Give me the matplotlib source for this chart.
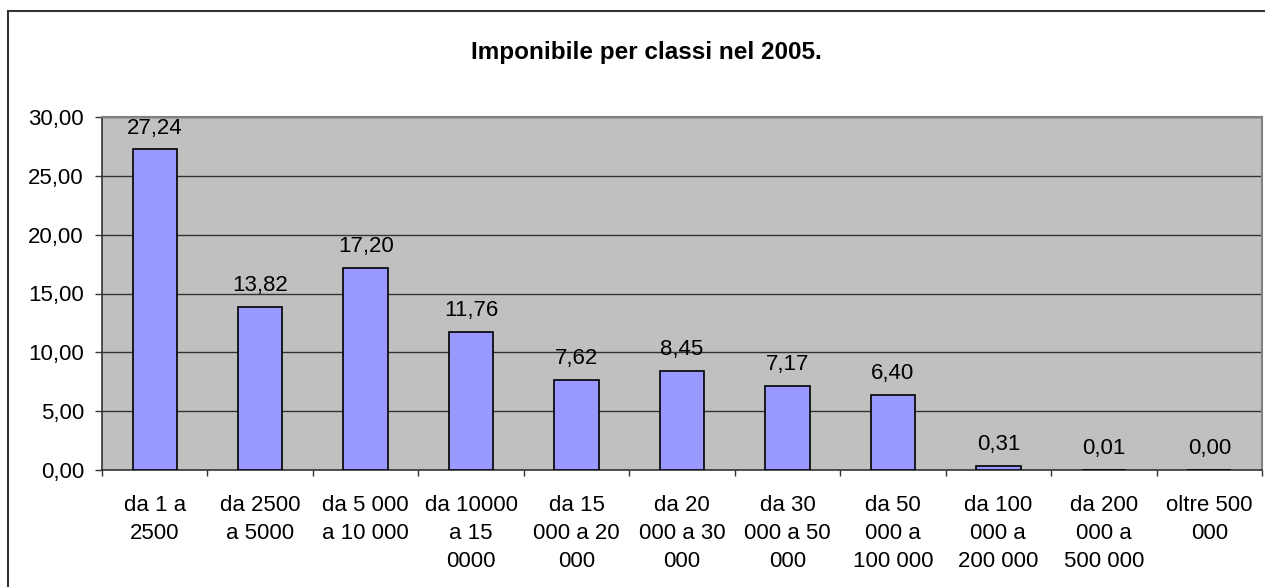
import matplotlib
matplotlib.use("Agg")
import matplotlib.pyplot as plt
from matplotlib.patches import Rectangle
from matplotlib.ticker import FixedLocator, NullFormatter

plt.rcParams['font.family'] = ['Liberation Sans', 'DejaVu Sans']

categories = ["da 1 a\n2500", "da 2500\na 5000", "da 5 000\na 10 000",
              "da 10000\na 15\n0000", "da 15\n000 a 20\n000", "da 20\n000 a 30\n000",
              "da 30\n000 a 50\n000", "da 50\n000 a\n100 000", "da 100\n000 a\n200 000",
              "da 200\n000 a\n500 000", "oltre 500\n000"]
values = [27.24, 13.82, 17.20, 11.76, 7.62, 8.45, 7.17, 6.40, 0.31, 0.01, 0.00]
yticks = [0, 5, 10, 15, 20, 25, 30]
title = "Imponibile per classi nel 2005."

FS = 16
W, H = 1265, 587
fig = plt.figure(figsize=(W/100, H/100), dpi=100)
fig.patch.set_facecolor('white')

# outer chart border (extends beyond right/bottom edges)
fig.add_artist(Rectangle((8/W, -0.1), 1.2, 1 - 11/H + 0.1, transform=fig.transFigure,
                         fill=False, edgecolor='#333333', linewidth=1.5))

left, right, top, bottom = 102, 1262, 117, 470
ax = fig.add_axes([left/W, 1 - bottom/H, (right-left)/W, (bottom-top)/H])
ax.set_facecolor('#C0C0C0')

n = len(categories)
x = list(range(n))
ax.bar(x, values, width=0.42, color='#9999FF', edgecolor='black', linewidth=1.2, zorder=3)
ax.set_xlim(-0.5, n - 0.5)
ax.set_ylim(0, 30)

ax.set_yticks(yticks)
ax.set_yticklabels([f"{v:.2f}".replace('.', ',') for v in yticks], fontsize=FS)
for v in yticks[1:]:
    ax.axhline(v, color='#333333', linewidth=1.0, zorder=1)

ax.xaxis.set_major_locator(FixedLocator([i - 0.5 for i in range(n + 1)]))
ax.xaxis.set_major_formatter(NullFormatter())
ax.xaxis.set_minor_locator(FixedLocator(x))
ax.set_xticklabels(categories, minor=True, fontsize=FS, linespacing=1.45, va='top')
ax.tick_params(axis='x', which='minor', length=0, pad=18)
ax.tick_params(axis='x', which='major', length=4.5, width=1, direction='out', color='#333333')
ax.tick_params(axis='y', length=5, width=1, direction='out', color='#333333', pad=8)

for s in ['top', 'right']:
    ax.spines[s].set_color('#808080')
    ax.spines[s].set_linewidth(1.5)
for s in ['left', 'bottom']:
    ax.spines[s].set_color('#333333')
    ax.spines[s].set_linewidth(1.2)

for xi, v in zip(x, values):
    ax.annotate(f"{v:.2f}".replace('.', ','), (xi, v), xytext=(0, 11.5), textcoords='offset points',
                ha='center', va='baseline', fontsize=FS, zorder=4)

fig.text(646/W, 1 - 53/H, title, ha='center', va='center', fontsize=17.5, fontweight='bold')

fig.savefig('out.png', dpi=100)
